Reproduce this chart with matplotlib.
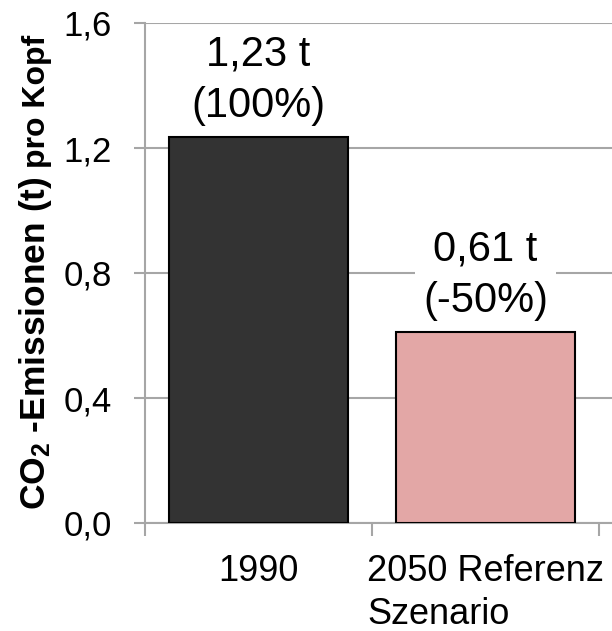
import numpy as np
import matplotlib
matplotlib.use("Agg")
import matplotlib.pyplot as plt
from matplotlib.ticker import FixedLocator, FuncFormatter

FONT = ["Liberation Sans", "DejaVu Sans"]
GRID = "#a6a6a6"
BAR_COLORS = ["#333333", "#e3a7a6"]

plt.rcParams.update({
    "font.family": FONT,
    "mathtext.fontset": "custom",
    "mathtext.rm": "Liberation Sans:bold",
    "mathtext.bf": "Liberation Sans:bold",
    "mathtext.default": "rm",
})

categories = ["1990", "2050 Referenz\nSzenario"]
values = [1.235, 0.611]
value_labels = ["1,23 t\n(100%)", "0,61 t\n(-50%)"]
yticks = [0.0, 0.4, 0.8, 1.2, 1.6]

fig = plt.figure(figsize=(6.12, 6.31), dpi=100)
W, H = 612, 631
ax = fig.add_axes([145 / W, 1 - 523 / H, 1 - 145 / W, (523 - 23) / H])

x = np.arange(len(categories))
ax.bar(x, values, width=0.79, color=BAR_COLORS, edgecolor="black", linewidth=1.5, zorder=3)

for xi, v, lab in zip(x, values, value_labels):
    ax.annotate(lab, xy=(xi, v), xytext=(0, 8), textcoords="offset points",
                ha="center", va="bottom", fontsize=30, linespacing=1.38,
                bbox=dict(facecolor="white", edgecolor="none", pad=6), zorder=4)

ax.set_xlim(-0.5, -0.5 + (W - 145) / 227)
ax.set_ylim(0, 1.6)
ax.set_yticks(yticks)
ax.yaxis.set_major_formatter(FuncFormatter(lambda v, p: f"{v:.1f}".replace(".", ",")))
ax.grid(axis="y", color=GRID, lw=1.5, zorder=0)
ax.set_axisbelow(True)

ax.set_xticks(x)
ax.set_xticklabels(categories, fontsize=26, multialignment="left", linespacing=1.3)
ax.xaxis.set_minor_locator(FixedLocator([-0.5, 0.5, 1.5]))
ax.tick_params(axis="x", which="major", length=0, pad=22, colors="black")
ax.tick_params(axis="x", which="minor", length=9, width=1.5, color=GRID, direction="out")
ax.tick_params(axis="y", length=8, width=1.5, color=GRID, direction="out", pad=16,
               labelsize=25, labelcolor="black")

for side in ["top", "right"]:
    ax.spines[side].set_visible(False)
for side in ["left", "bottom"]:
    ax.spines[side].set_color(GRID)
    ax.spines[side].set_linewidth(1.5)

# y label, two sizes, sharing a baseline
fig.text(45 / W, 1 - 510 / H, r"CO$_2$ -Emissionen (t)", rotation=90, rotation_mode="anchor",
         ha="left", va="baseline", fontsize=25.5, fontweight="bold")
fig.text(45 / W, 1 - 35 / H, "pro Kopf", rotation=90, rotation_mode="anchor",
         ha="right", va="baseline", fontsize=23, fontweight="bold")

fig.savefig("out.png", dpi=100)
